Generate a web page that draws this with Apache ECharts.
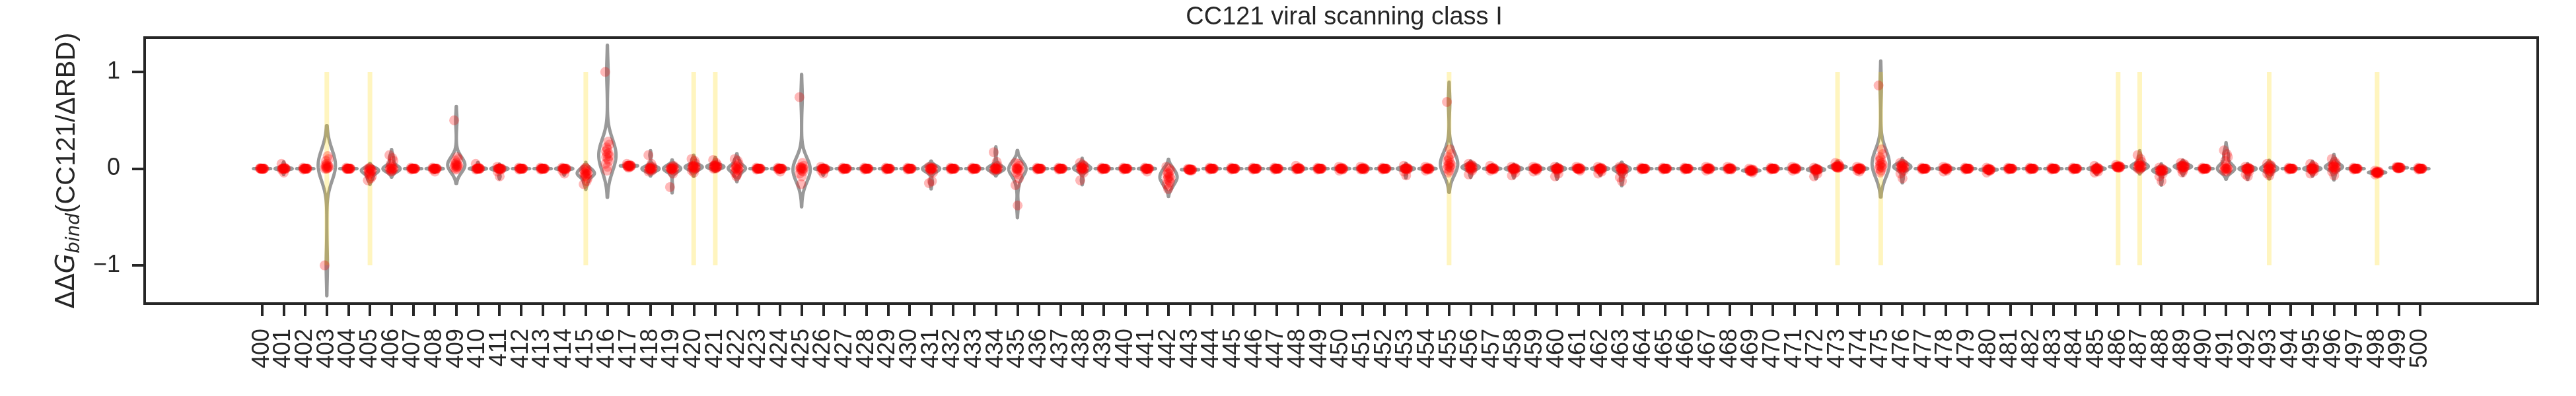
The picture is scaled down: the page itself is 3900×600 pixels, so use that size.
<!DOCTYPE html>
<html>
<head>
<meta charset="utf-8">
<script src="https://cdn.jsdelivr.net/npm/echarts@6/dist/echarts.min.js"></script>
<style>
html,body{margin:0;padding:0;background:#ffffff;}
#chart{width:3900px;height:600px;}
</style>
</head>
<body>
<div id="chart"></div>
<script>
// ---------- data ----------
const TITLE = 'CC121 viral scanning class I';

const RESIDUES = [400,401,402,403,404,405,406,407,408,409,
  410,411,412,413,414,415,416,417,418,419,
  420,421,422,423,424,425,426,427,428,429,
  430,431,432,433,434,435,436,437,438,439,
  440,441,442,443,444,445,446,447,448,449,
  450,451,452,453,454,455,456,457,458,459,
  460,461,462,463,464,465,466,467,468,469,
  470,471,472,473,474,475,476,477,478,479,
  480,481,482,483,484,485,486,487,488,489,
  490,491,492,493,494,495,496,497,498,499,500];

// highlighted residues (pale yellow bars from -1 to 1)
const HOTSPOTS = [403,405,415,420,421,455,473,475,486,487,493,498];
const HOT_LOW = -1;
const HOT_HIGH = 1;

const Y_TICKS = [-1, 0, 1];
const Y_TICK_LABELS = ['\u22121', '0', '1'];

// ddG_bind values per residue (one list per residue)
const DDG = [
/*400*/[0,0,0,0,0,0,0,0,0,0,0,0,0.005,-0.005,0],
/*401*/[0.05,0.01,0,0,0,0,0,0,0,0,0,0,-0.01,-0.04,0],
/*402*/[0.01,0,0,0,0,0,0,0,0,0,0,0,-0.01,0,0],
/*403*/[-1.0,0.13,0.1,0.08,0.05,0.04,0.03,0.03,0.02,0.02,0.01,0.01,0,0,0],
/*404*/[0.01,0,0,0,0,0,0,0,0,0,0,0,-0.005,0,0],
/*405*/[-0.12,-0.1,-0.08,-0.06,-0.05,-0.04,-0.03,-0.03,-0.02,-0.02,-0.01,-0.01,0,0,0.01],
/*406*/[0.14,0.11,0.08,0.05,0.02,0.01,0.01,0,0,0,0,-0.01,-0.01,-0.02,-0.03],
/*407*/[0.01,0,0,0,0,0,0,0,0,0,0,0,-0.01,0,0],
/*408*/[0.01,0,0,0,0,0,0,0,0,0,0,0,-0.01,-0.03,0],
/*409*/[0.5,0.12,0.1,0.08,0.06,0.05,0.04,0.04,0.03,0.03,0.02,0.02,0.01,0,-0.01],
/*410*/[0.05,0.01,0,0,0,0,0,0,0,0,0,0,-0.01,0,0],
/*411*/[0.02,0,0,0,0,0,0,0,0,0,0,-0.01,-0.03,-0.08,0],
/*412*/[0.01,0,0,0,0,0,0,0,0,0,0,0,-0.01,0,0],
/*413*/[0.01,0,0,0,0,0,0,0,0,0,0,0,-0.01,0,0],
/*414*/[0.01,0,0,0,0,0,0,0,0,0,0,-0.01,-0.02,-0.05,0],
/*415*/[-0.16,-0.13,-0.1,-0.08,-0.07,-0.06,-0.06,-0.05,-0.05,-0.04,-0.03,-0.02,-0.01,0,0.01],
/*416*/[1.0,0.28,0.25,0.22,0.2,0.18,0.16,0.15,0.13,0.12,0.1,0.08,0.05,0.02,-0.02],
/*417*/[0.05,0.04,0.03,0.03,0.03,0.03,0.03,0.03,0.03,0.02,0.02,0.02,0.03,0.03,0.01],
/*418*/[0.14,0.05,0.02,0.01,0,0,0,0,0,-0.01,-0.01,-0.02,-0.03,0,0.01],
/*419*/[-0.19,-0.05,-0.02,-0.01,0,0,0,0,0.01,0.01,0.02,0.03,0,0,-0.01],
/*420*/[0.1,0.08,0.05,0.03,0.03,0.02,0.02,0.02,0.01,0.01,0,0,-0.02,-0.04,0.02],
/*421*/[0.09,0.06,0.04,0.03,0.03,0.03,0.02,0.02,0.02,0.01,0.01,0.01,0,0,0.04],
/*422*/[0.1,0.08,0.05,0.03,0.02,0.01,0.01,0,0,0,-0.01,-0.02,-0.04,-0.06,-0.08],
/*423*/[0.01,0,0,0,0,0,0,0,0,0,0,0,-0.01,0,0],
/*424*/[0.01,0,0,0,0,0,0,0,0,0,0,0,-0.01,-0.03,0],
/*425*/[0.74,0.06,0.03,0.02,0.01,0.01,0,0,0,-0.01,-0.02,-0.03,-0.05,-0.08,-0.16],
/*426*/[0.02,0,0,0,0,0,0,0,0,0,0,-0.01,-0.02,-0.05,0],
/*427*/[0.01,0,0,0,0,0,0,0,0,0,0,0,-0.01,0,0],
/*428*/[0.01,0,0,0,0,0,0,0,0,0,0,0,-0.01,0,0],
/*429*/[0.01,0,0,0,0,0,0,0,0,0,0,0,-0.01,0,0],
/*430*/[0.01,0,0,0,0,0,0,0,0,0,0,0,-0.01,0,0],
/*431*/[-0.15,-0.13,-0.04,-0.02,-0.01,0,0,0,0,0,0.01,0.01,0.02,0,0],
/*432*/[0.01,0,0,0,0,0,0,0,0,0,0,0,-0.01,0,0],
/*433*/[0.01,0,0,0,0,0,0,0,0,0,0,0,-0.01,0,0],
/*434*/[0.17,0.07,0.03,0.01,0.01,0,0,0,0,0,-0.01,-0.01,-0.02,0,0],
/*435*/[0.06,0.05,0.03,0.01,0,0,0,-0.01,-0.02,-0.04,-0.06,-0.1,-0.17,-0.38,0],
/*436*/[0.01,0,0,0,0,0,0,0,0,0,0,0,-0.01,0,0],
/*437*/[0.01,0,0,0,0,0,0,0,0,0,0,0,-0.01,0,0],
/*438*/[0.06,0.04,0.03,0.02,0.01,0.01,0,0,0,-0.01,-0.02,-0.04,-0.12,0.01,0],
/*439*/[0.01,0,0,0,0,0,0,0,0,0,0,0,-0.01,0,0],
/*440*/[0.01,0,0,0,0,0,0,0,0,0,0,0,-0.01,0,0],
/*441*/[0.01,0,0,0,0,0,0,0,0,0,0,0,-0.01,-0.03,0],
/*442*/[0.02,0,-0.02,-0.04,-0.05,-0.06,-0.08,-0.09,-0.1,-0.11,-0.12,-0.14,-0.16,-0.18,-0.21],
/*443*/[0,-0.01,-0.01,-0.01,-0.01,-0.01,-0.01,-0.01,-0.01,-0.01,-0.01,-0.02,-0.01,-0.01,-0.02],
/*444*/[0.01,0,0,0,0,0,0,0,0,0,0,0,-0.01,0,0],
/*445*/[0.01,0,0,0,0,0,0,0,0,0,0,0,-0.01,0,0],
/*446*/[0.01,0,0,0,0,0,0,0,0,0,0,0,-0.01,0,0],
/*447*/[0.01,0,0,0,0,0,0,0,0,0,0,0,-0.01,0,0],
/*448*/[0.03,0.01,0,0,0,0,0,0,0,0,0,0,-0.01,0,0],
/*449*/[0.01,0,0,0,0,0,0,0,0,0,0,0,-0.01,0,0],
/*450*/[0.02,0.01,0,0,0,0,0,0,0,0,0,-0.01,-0.02,0,0],
/*451*/[0.02,0.01,0,0,0,0,0,0,0,0,0,-0.01,-0.01,0,0],
/*452*/[0.01,0,0,0,0,0,0,0,0,0,0,0,-0.01,0,0],
/*453*/[0.03,0.01,0,0,0,0,0,0,0,0,0,-0.01,-0.03,-0.07,0],
/*454*/[0.02,0.01,0,0,0,0,0,0,0,0,0,-0.01,-0.02,0,0],
/*455*/[0.69,0.2,0.15,0.12,0.1,0.08,0.06,0.05,0.04,0.03,0.02,0.01,0,-0.02,-0.04],
/*456*/[0.05,0.04,0.03,0.03,0.02,0.02,0.01,0.01,0,0,-0.01,-0.02,-0.06,0.02,0.01],
/*457*/[0.03,0.01,0,0,0,0,0,0,0,0,0,-0.01,-0.02,0,0],
/*458*/[0.02,0.01,0,0,0,0,0,0,0,-0.01,-0.02,-0.04,-0.07,0,0],
/*459*/[0.02,0.01,0,0,0,0,0,0,0,0,-0.01,-0.02,-0.03,0,0],
/*460*/[0.02,0.01,0,0,0,0,0,0,0,-0.01,-0.02,-0.05,-0.08,0,0],
/*461*/[0.02,0.01,0,0,0,0,0,0,0,0,-0.01,-0.02,0,0,0],
/*462*/[0.02,0.01,0,0,0,0,0,0,0,-0.01,-0.02,-0.03,-0.05,0,0],
/*463*/[0.02,0.01,0,0,0,0,0,0,-0.01,-0.02,-0.03,-0.05,-0.09,-0.13,0],
/*464*/[0.01,0,0,0,0,0,0,0,0,0,0,0,-0.01,0,0],
/*465*/[0.01,0,0,0,0,0,0,0,0,0,0,0,-0.01,0,0],
/*466*/[0.01,0,0,0,0,0,0,0,0,0,0,0,-0.01,0,0],
/*467*/[0.02,0.01,0,0,0,0,0,0,0,0,0,-0.01,-0.02,0,0],
/*468*/[0.02,0.01,0,0,0,0,0,0,0,0,0,-0.01,-0.01,0,0],
/*469*/[0,-0.01,-0.01,-0.02,-0.02,-0.02,-0.02,-0.02,-0.02,-0.03,-0.03,-0.04,-0.02,-0.02,-0.01],
/*470*/[0.01,0,0,0,0,0,0,0,0,0,0,0,-0.01,0,0],
/*471*/[0.02,0.01,0,0,0,0,0,0,0,0,0,-0.01,-0.02,0,0],
/*472*/[0.01,0,-0.01,-0.01,-0.01,-0.01,-0.01,-0.01,-0.01,-0.02,-0.03,-0.05,-0.08,-0.01,0],
/*473*/[0.06,0.05,0.03,0.02,0.02,0.02,0.02,0.02,0.02,0.02,0.01,0.01,0.02,0.03,0.01],
/*474*/[0.02,0.01,0,0,0,0,0,0,0,0,0,-0.01,-0.02,-0.03,0],
/*475*/[0.86,0.2,0.15,0.12,0.1,0.08,0.06,0.05,0.04,0.03,0.02,0.01,0,-0.02,-0.04],
/*476*/[0.06,0.05,0.04,0.03,0.03,0.02,0.02,0.01,0.01,0,0,-0.02,-0.05,-0.1,0.02],
/*477*/[0.01,0,0,0,0,0,0,0,0,0,0,0,-0.01,0,0],
/*478*/[0.02,0.01,0,0,0,0,0,0,0,0,-0.01,-0.02,-0.03,0,0],
/*479*/[0.01,0,0,0,0,0,0,0,0,0,0,0,-0.01,0,0],
/*480*/[0.01,0,-0.01,-0.01,-0.01,-0.01,-0.01,-0.01,-0.01,-0.01,-0.02,-0.02,-0.04,-0.01,0],
/*481*/[0.01,0,0,0,0,0,0,0,0,0,0,0,-0.01,0,0],
/*482*/[0.01,0,0,0,0,0,0,0,0,0,0,0,-0.01,0,0],
/*483*/[0.01,0,0,0,0,0,0,0,0,0,0,0,-0.01,0,0],
/*484*/[0.01,0,0,0,0,0,0,0,0,0,0,0,-0.01,0,0],
/*485*/[0.03,0.01,0,0,0,0,0,0,0,-0.01,-0.02,-0.03,-0.04,0,0],
/*486*/[0.04,0.03,0.02,0.02,0.02,0.02,0.02,0.02,0.02,0.02,0.01,0.01,0.02,0.02,0.01],
/*487*/[0.14,0.1,0.07,0.05,0.04,0.03,0.03,0.03,0.02,0.02,0.01,0.01,0,-0.01,0.03],
/*488*/[0.01,0,-0.01,-0.01,-0.02,-0.02,-0.02,-0.02,-0.02,-0.03,-0.03,-0.05,-0.08,-0.13,-0.02],
/*489*/[0.06,0.05,0.04,0.03,0.03,0.03,0.02,0.02,0.02,0.02,0.01,0.01,0,-0.02,-0.04],
/*490*/[0.01,0,0,0,0,0,0,0,0,0,0,0,-0.01,0,0],
/*491*/[0.19,0.15,0.12,0.08,0.05,0.02,0.01,0,0,0,0,-0.01,-0.02,-0.03,0],
/*492*/[0.02,0.01,0,0,0,0,0,0,0,-0.01,-0.02,-0.03,-0.06,-0.08,0],
/*493*/[0.05,0.04,0.03,0.02,0.01,0,0,0,0,-0.01,-0.02,-0.03,-0.05,-0.07,0],
/*494*/[0.01,0,0,0,0,0,0,0,0,0,0,0,-0.01,0,0],
/*495*/[0.05,0.03,0.02,0.01,0,0,0,0,0,-0.01,-0.02,-0.03,-0.05,0,0],
/*496*/[0.1,0.07,0.05,0.04,0.03,0.02,0.02,0.02,0.01,0.01,0,-0.01,-0.03,-0.07,0.02],
/*497*/[0.01,0,0,0,0,0,0,0,0,0,0,0,-0.01,0,0],
/*498*/[-0.02,-0.03,-0.03,-0.04,-0.04,-0.04,-0.04,-0.04,-0.04,-0.04,-0.05,-0.05,-0.06,-0.04,-0.03],
/*499*/[0.02,0.01,0.01,0.01,0.01,0.01,0.01,0.01,0.01,0.01,0.01,0.01,0.01,0.01,0],
/*500*/[0.01,0,0,0,0,0,0,0,0,0,0,0,-0.01,0,0]
];

// ---------- style / layout ----------
const X_MIN = -5.44, X_MAX = 105.44;   // category-index axis limits
const Y_MIN = -1.395, Y_MAX = 1.355;
const VIOLIN_HALF = 0.4;
const GRAY = '#999999';
const INK = '#262626';
// deterministic strip-plot jitter offsets (category units)
const JITTER = [-0.1,0.04,0.09,-0.04,0.0,-0.07,0.06,-0.01,0.1,-0.06,0.02,0.07,-0.09,0.01,-0.02];

// ---------- violin shapes: Gaussian KDE, Scott bandwidth, cut = 2, scaled to equal width ----------
function violinShape(vals) {
  const n = vals.length;
  const mean = vals.reduce((a, b) => a + b, 0) / n;
  const sd = Math.sqrt(vals.reduce((a, b) => a + (b - mean) * (b - mean), 0) / (n - 1));
  const bw = sd * Math.pow(n, -0.2);
  if (!(bw > 1e-9)) return { flat: true, y: mean };
  const lo = Math.min(...vals) - 2 * bw, hi = Math.max(...vals) + 2 * bw;
  const G = 160, ys = [], ds = [];
  let dmax = 0;
  for (let k = 0; k <= G; k++) {
    const y = lo + (hi - lo) * k / G;
    let d = 0;
    for (const v of vals) { const z = (y - v) / bw; d += Math.exp(-0.5 * z * z); }
    ys.push(y); ds.push(d); if (d > dmax) dmax = d;
  }
  return { flat: false, ys, ws: ds.map(d => VIOLIN_HALF * d / dmax) };
}
const SHAPES = DDG.map(violinShape);

const violinData = RESIDUES.map((r, i) => [i, 0]);
const hotData = HOTSPOTS.map(r => [RESIDUES.indexOf(r), HOT_LOW, HOT_HIGH]);
const pointData = [];
DDG.forEach((vals, i) => vals.forEach((v, j) => pointData.push([i + JITTER[j % JITTER.length], v])));

const chart = echarts.init(document.getElementById('chart'), null, { renderer: 'canvas' });
const FONT = 'Liberation Sans, Arial, sans-serif';
const TICK_IDX = RESIDUES.map((r, i) => i);
// labels split over two coincident bottom axes so that none is dropped by overlap checks
const LABEL_EVEN = TICK_IDX.filter(i => i % 2 === 0);
const LABEL_ODD = TICK_IDX.filter(i => i % 2 === 1);

function xLabelAxis(values, withTicks) {
  return {
    type: 'value', min: X_MIN, max: X_MAX, position: 'bottom', offset: 0,
    axisLine: { show: false, onZero: false },
    splitLine: { show: false },
    axisTick: { show: withTicks, length: 19, lineStyle: { color: INK, width: 4 }, customValues: TICK_IDX },
    axisLabel: { show: true, rotate: 90, margin: 38, fontFamily: FONT, fontSize: 36,
      color: INK, hideOverlap: false, showMinLabel: true, showMaxLabel: true,
      customValues: values,
      formatter: v => String(RESIDUES[Math.round(v)]) }
  };
}

chart.setOption({
  animation: false,
  backgroundColor: '#ffffff',
  title: {
    text: TITLE,
    left: 2030, top: 3, textAlign: 'center',
    textStyle: { fontFamily: FONT, fontSize: 38, fontWeight: 'normal', color: INK }
  },
  grid: {
    left: 219, right: 58, top: 57, bottom: 140,
    show: true, borderColor: INK, borderWidth: 4, backgroundColor: 'transparent'
  },
  xAxis: [xLabelAxis(LABEL_EVEN, true), xLabelAxis(LABEL_ODD, false)],
  yAxis: {
    type: 'value', min: Y_MIN, max: Y_MAX,
    axisLine: { show: false, onZero: false },
    splitLine: { show: false },
    axisTick: { show: true, length: 19, lineStyle: { color: INK, width: 4 }, customValues: Y_TICKS },
    axisLabel: { show: true, margin: 37, fontFamily: FONT, fontSize: 36, color: INK,
      customValues: Y_TICKS,
      formatter: v => Y_TICK_LABELS[Y_TICKS.indexOf(Math.round(v))] },
    name: '{d|\u0394\u0394}{g|G}{s|bind}{n|(CC121/\u0394RBD)}',
    nameLocation: 'middle', nameRotate: 90, nameGap: 92,
    nameTextStyle: {
      rich: {
        d: { fontFamily: 'DejaVu Sans', fontSize: 39, color: INK, lineHeight: 50 },
        g: { fontFamily: 'DejaVu Sans', fontStyle: 'italic', fontSize: 39, color: INK, lineHeight: 50 },
        s: { fontFamily: 'DejaVu Sans', fontStyle: 'italic', fontSize: 28, color: INK, lineHeight: 50, verticalAlign: 'bottom' },
        n: { fontFamily: FONT, fontSize: 40, color: INK, lineHeight: 50 }
      }
    }
  },
  series: [
    {
      type: 'custom', name: 'violins', z: 2, xAxisIndex: 0,
      encode: { x: 0, y: 1 },
      data: violinData,
      renderItem: function (params, api) {
        const i = api.value(0);
        const s = SHAPES[params.dataIndex];
        if (s.flat) {
          const a = api.coord([i - VIOLIN_HALF, s.y]), b = api.coord([i + VIOLIN_HALF, s.y]);
          return { type: 'line', shape: { x1: a[0], y1: a[1], x2: b[0], y2: b[1] },
            style: { stroke: GRAY, lineWidth: 5, lineCap: 'round' } };
        }
        const pts = [];
        for (let k = 0; k < s.ys.length; k++) pts.push(api.coord([i + s.ws[k], s.ys[k]]));
        for (let k = s.ys.length - 1; k >= 0; k--) pts.push(api.coord([i - s.ws[k], s.ys[k]]));
        return { type: 'polygon', shape: { points: pts },
          style: { fill: 'none', stroke: GRAY, lineWidth: 5, lineJoin: 'round' } };
      }
    },
    {
      type: 'custom', name: 'hotspots', z: 3, xAxisIndex: 0,
      encode: { x: 0, y: [1, 2] },
      data: hotData,
      renderItem: function (params, api) {
        const top = api.coord([api.value(0), api.value(2)]);
        const bot = api.coord([api.value(0), api.value(1)]);
        return { type: 'rect', shape: { x: top[0] - 3.5, y: top[1], width: 7, height: bot[1] - top[1] },
          style: { fill: 'rgba(255,215,0,0.25)' } };
      }
    },
    {
      type: 'scatter', name: 'points', z: 4, large: false, xAxisIndex: 0,
      data: pointData,
      symbol: 'circle', symbolSize: 15,
      itemStyle: { color: 'rgba(255,0,0,0.35)', borderWidth: 0 },
      emphasis: { disabled: true }
    }
  ]
});
</script>
</body>
</html>
